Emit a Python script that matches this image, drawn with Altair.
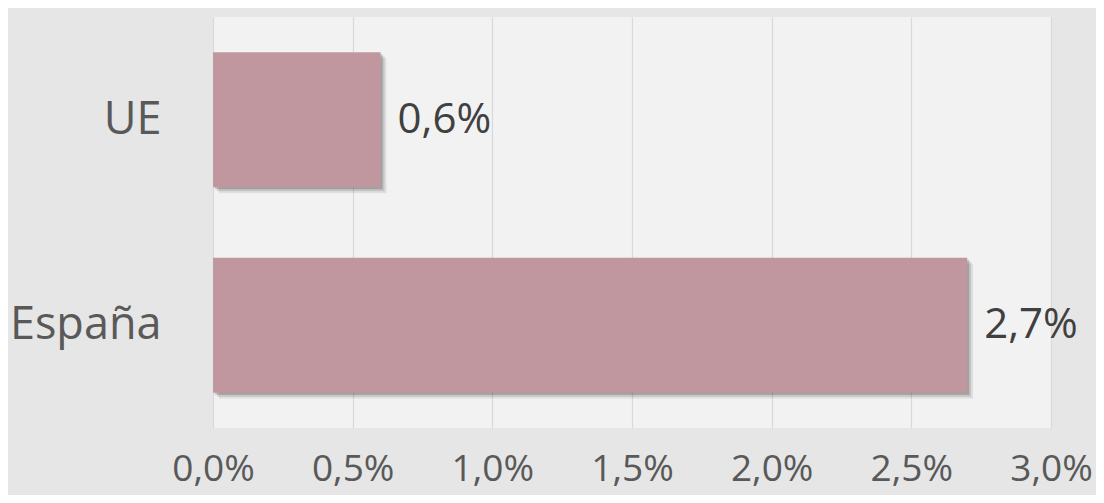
import altair as alt
import pandas as pd

categories = ["UE", "España"]
values = [0.006, 0.027]
x_ticks = [0.0, 0.005, 0.01, 0.015, 0.02, 0.025, 0.03]

df = pd.DataFrame({"cat": categories, "val": values})

FONT = "Open Sans"

x_enc = alt.X("val:Q", scale=alt.Scale(domain=[0, 0.03], nice=False),
              axis=alt.Axis(values=x_ticks, labelExpr="replace(format(datum.value, '.1%'), '.', ',')",
                            grid=True, gridColor="#d9d9d9", gridWidth=1.2, domain=False, ticks=False,
                            labelFontSize=37, labelColor="#595959", labelFont=FONT, labelPadding=23,
                            title=None, labelFlush=False))
y_enc = alt.Y("cat:N", sort=categories,
              scale=alt.Scale(paddingInner=0.343, paddingOuter=0.1715),
              axis=alt.Axis(domain=False, ticks=False, labelFontSize=45, labelColor="#595959",
                            labelFont=FONT, labelPadding=52, title=None))

shadows = []
for off, op in [(2, 0.18), (4, 0.12), (6, 0.07)]:
    shadows.append(
        alt.Chart(df).mark_bar(color="#000000", opacity=op, xOffset=off, x2Offset=off,
                               yOffset=off, y2Offset=off)
        .encode(x=x_enc, y=y_enc)
    )

bars = alt.Chart(df).mark_bar(color="#c1979f").encode(x=x_enc, y=y_enc)

labels = alt.Chart(df).transform_calculate(
    lab="replace(format(datum.val, '.1%'), '.', ',')"
).mark_text(align="left", baseline="middle", dx=17, fontSize=42, font=FONT, color="#404040").encode(
    x="val:Q", y=alt.Y("cat:N", sort=categories), text="lab:N"
)

chart = alt.layer(*shadows, bars, labels).properties(
    width=838, height=411,
    autosize=alt.AutoSizeParams(type="none"),
    padding={"left": 205, "top": 9, "right": 45, "bottom": 67},
    background="#e6e6e6",
).configure_view(fill="#f2f2f2", stroke=None)

chart.save("out.html", embed_options={"renderer": "svg", "actions": False})
